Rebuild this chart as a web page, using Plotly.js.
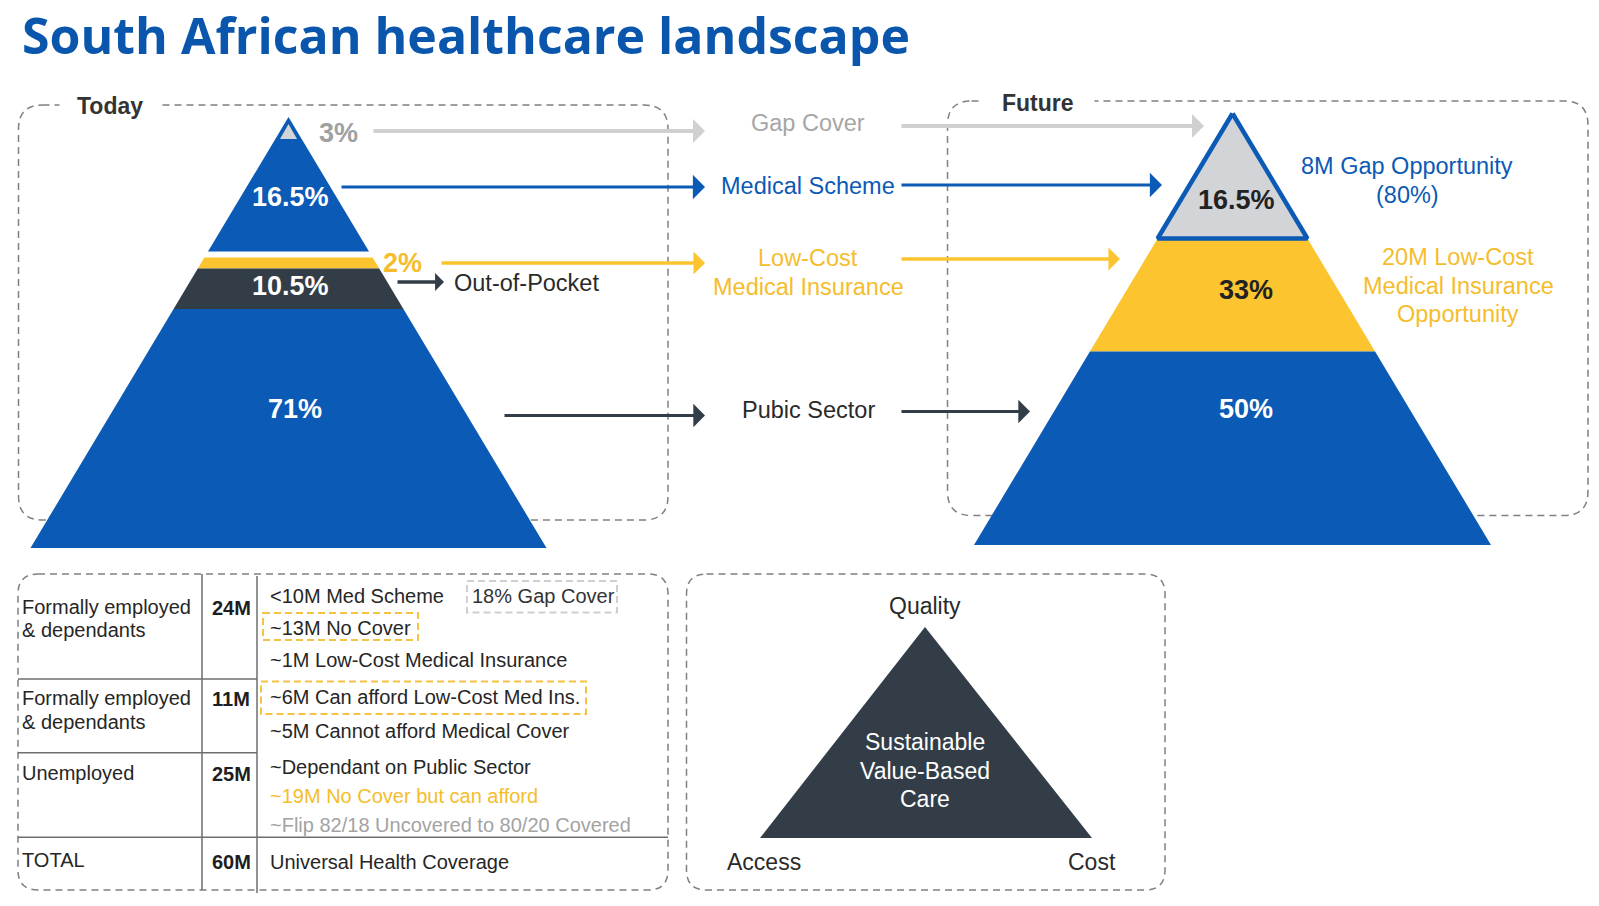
<!DOCTYPE html>
<html><head><meta charset="utf-8">
<script src="https://cdn.plot.ly/plotly-3.0.1.min.js"></script>
<style>html,body{margin:0;padding:0;background:#fff;}#chart{width:1599px;height:906px;}</style>
</head><body><div id="chart"></div>
<script>
// ---------------- data ----------------
const chartTitle = 'South African healthcare landscape';
const panelTitles = ['Today', 'Future'];
const todaySegments = ['Gap Cover', 'Medical Scheme', 'Low-Cost Medical Insurance', 'Out-of-Pocket', 'Public Sector'];
const todayShares = [3, 16.5, 2, 10.5, 71];
const futureSegments = ['Gap Cover', 'Low-Cost Medical Insurance', 'Public Sector'];
const futureShares = [16.5, 33, 50];
const flowLabels = ['Gap Cover', 'Medical Scheme', 'Low-Cost', 'Medical Insurance', 'Pubic Sector'];
const sideNote = 'Out-of-Pocket';
const futureNotes = ['8M Gap Opportunity', '(80%)', '20M Low-Cost', 'Medical Insurance', 'Opportunity'];
const groupLabels = ['Formally employed', '& dependants', 'Formally employed', '& dependants', 'Unemployed', 'TOTAL'];
const groupSizes = ['24M', '11M', '25M', '60M'];
const detailLines = ['<10M Med Scheme', '18% Gap Cover', '~13M No Cover', '~1M Low-Cost Medical Insurance',
  '~6M Can afford Low-Cost Med Ins.', '~5M Cannot afford Medical Cover', '~Dependant on Public Sector',
  '~19M No Cover but can afford', '~Flip 82/18 Uncovered to 80/20 Covered', 'Universal Health Coverage'];
const triangleCorners = ['Quality', 'Access', 'Cost'];
const triangleCentre = ['Sustainable', 'Value-Based', 'Care'];

// ---------------- styles / layout geometry ----------------
const C = {blue:'#0B5AB5', yellow:'#FCC42F', dark:'#323D48', grey:'#D2D4D7', text:'#333333',
  greyText:'#A6A6A6', yText:'#F5BD2C', dash:'#808080', title:'#0A56AD', arrowGrey:'#D0D0D0'};
const FONT = 'Liberation Sans, Arial, sans-serif';
const TP = {ax:288.5, ay:117, h:431, w:258};
const FP = {ax:1232.5, ay:113.5, h:431.5, w:258.5};
const todayBands = [[0,0.312,C.blue],[0.326,0.3515,C.yellow],[0.3515,0.4455,C.dark],[0.4455,1,C.blue]];
const futureBands = [[0.2897,0.5516,C.yellow],[0.5516,1,C.blue]];

function esc(s){return s.replace(/&/g,'&amp;').replace(/</g,'&lt;').replace(/>/g,'&gt;');}
function band(P,f0,f1){
  const y0=P.ay+P.h*f0, y1=P.ay+P.h*f1;
  return {x:[P.ax-P.w*f0,P.ax+P.w*f0,P.ax+P.w*f1,P.ax-P.w*f1,P.ax-P.w*f0], y:[y0,y0,y1,y1,y0]};
}
function poly(pts, fill, line, lw){
  return {type:'scatter', mode:'lines', x:pts.x, y:pts.y, fill:'toself', fillcolor:fill,
    line:{color:line||fill, width:lw||0}, hoverinfo:'skip', showlegend:false};
}
const traces = [];
todayBands.forEach(b=>traces.push(poly(band(TP,b[0],b[1]),b[2])));
// small grey gap-cover cap inside the top of today's pyramid
traces.push(poly({x:[TP.ax-8.5,TP.ax,TP.ax+8.5,TP.ax-8.5], y:[139,124,139,139]}, C.grey));
futureBands.forEach(b=>traces.push(poly(band(FP,b[0],b[1]),b[2])));
traces.push(poly(band(FP,0,0.2897), C.grey, C.blue, 4.5));
// value triangle
traces.push(poly({x:[760,925,1092,760], y:[838,627,838,838]}, C.dark));

function roundRect(x0,y0,x1,y1,r){
  return `M${x0+r},${y0} L${x1-r},${y0} Q${x1},${y0} ${x1},${y0+r} L${x1},${y1-r} Q${x1},${y1} ${x1-r},${y1} `+
    `L${x0+r},${y1} Q${x0},${y1} ${x0},${y1-r} L${x0},${y0+r} Q${x0},${y0} ${x0+r},${y0} Z`;
}
const shapes = [];
function dashBox(x0,y0,x1,y1,r){
  shapes.push({type:'path', xref:'x', yref:'y', layer:'below', path:roundRect(x0,y0,x1,y1,r),
    line:{color:C.dash, width:1.5, dash:'7px,5px'}});
}
dashBox(18.5,105,668,520,24);
dashBox(947.5,101,1588,515.5,24);
dashBox(18,574,668,890,20);
dashBox(686.5,574,1165,890,20);
function seg(x0,y0,x1,y1,color,w,dash){
  shapes.push({type:'line', xref:'x', yref:'y', x0, y0, x1, y1, layer:'above',
    line:{color, width:w, dash:dash||'solid'}});
}
seg(202,574,202,890,'#6E6E6E',1.5);
seg(257,576,257,893,'#6E6E6E',1.5);
seg(18,679,257,679,'#6E6E6E',1.5);
seg(18,752.7,257,752.7,'#6E6E6E',1.5);
seg(18,837.3,668,837.3,'#6E6E6E',1.5);
function rectBox(x0,y0,x1,y1,color){
  shapes.push({type:'rect', xref:'x', yref:'y', x0, y0, x1, y1, layer:'above',
    line:{color, width:2, dash:'7px,4px'}, fillcolor:'rgba(0,0,0,0)'});
}
rectBox(467,581,617,612.5,'#CFCFCF');
rectBox(263,613,418,640,'#F6C244');
rectBox(261,681.5,586,714,'#F6C244');

const ann = [];
function txt(x,y,text,size,color,opts){
  opts=opts||{};
  ann.push(Object.assign({xref:'x', yref:'y', x, y, text, showarrow:false,
    xanchor:opts.xanchor||'center', yanchor:'middle',
    font:{family:opts.family||FONT, size, color}}, opts.extra||{}));
}
function arrow(x0,x1,y,color,w,size){
  ann.push({xref:'x', yref:'y', axref:'x', ayref:'y', x:x1, y, ax:x0, ay:y, text:'', showarrow:true,
    arrowhead:1, arrowsize:size, arrowwidth:w, arrowcolor:color, standoff:0, startstandoff:0});
}
// title
txt(20, 34.5, '<b>'+chartTitle+'</b>', 50, C.title, {xanchor:'left', family:'Open Sans, Noto Sans, sans-serif'});
// panel titles
txt(110, 106, '<b>'+panelTitles[0]+'</b>', 23, C.text, {extra:{bgcolor:'#ffffff', borderpad:17}});
txt(1038, 102.5, '<b>'+panelTitles[1]+'</b>', 23, C.text, {extra:{bgcolor:'#ffffff', borderpad:20}});
// today pyramid labels
txt(338.5, 132.5, '<b>'+todayShares[0]+'%</b>', 27, '#A0A0A0');
txt(290.5, 197, '<b>'+todayShares[1]+'%</b>', 27, '#ffffff');
txt(402, 262.5, '<b>'+todayShares[2]+'%</b>', 27, C.yText);
txt(290.5, 286, '<b>'+todayShares[3]+'%</b>', 27, '#ffffff');
txt(295, 409, '<b>'+todayShares[4]+'%</b>', 27, '#ffffff');
// future pyramid labels
txt(1236, 200, '<b>'+futureShares[0]+'%</b>', 27, '#222222');
txt(1246, 290, '<b>'+futureShares[1]+'%</b>', 27, '#222222');
txt(1246, 409, '<b>'+futureShares[2]+'%</b>', 27, '#ffffff');
// arrows
arrow(372,705,131,C.arrowGrey,4,1.0);
arrow(900,1204,126,C.arrowGrey,4,1.0);
arrow(340,705,187,C.blue,3,1.35);
arrow(900,1162,185,C.blue,3,1.35);
arrow(440,705,263,C.yellow,3.5,1.1);
arrow(900,1120,259,C.yellow,3.5,1.1);
arrow(396,444,282,C.dark,3.5,0.85);
arrow(503,705,415.5,C.dark,3,1.3);
arrow(900,1030,411.5,C.dark,3,1.3);
// flow labels
txt(808, 123, flowLabels[0], 23.5, C.greyText);
txt(808, 186, flowLabels[1], 23.5, C.blue);
txt(808, 258, flowLabels[2], 23.5, C.yText);
txt(808, 286.5, flowLabels[3], 23.5, C.yText);
txt(808, 409.5, flowLabels[4], 23.5, '#2A2A2A');
txt(452, 282.5, sideNote, 23.5, '#2A2A2A', {xanchor:'left'});
// future notes
txt(1407, 165.5, futureNotes[0], 23.5, C.blue);
txt(1407, 194.5, futureNotes[1], 23.5, C.blue);
txt(1458, 257, futureNotes[2], 23.5, C.yText);
txt(1458, 285.5, futureNotes[3], 23.5, C.yText);
txt(1458, 314, futureNotes[4], 23.5, C.yText);
// table
const gY = [606.5, 630, 697.5, 721.5, 773, 860];
groupLabels.forEach((g,i)=>txt(19.5, gY[i], esc(g), 20, '#262626', {xanchor:'left'}));
const sY = [608, 698.5, 774, 861.5];
groupSizes.forEach((s,i)=>txt(231, sY[i], '<b>'+s+'</b>', 20, '#1E1E1E'));
const dX = [268, 470, 268, 268, 268, 268, 268, 268, 268, 268];
const dY = [595.5, 595.5, 627.5, 660, 696.5, 730.5, 766.5, 795.5, 824.5, 862];
const dC = ['#262626','#333333','#262626','#262626','#262626','#262626','#262626',C.yText,'#A3A3A3','#262626'];
detailLines.forEach((d,i)=>txt(dX[i], dY[i], esc(d), 20, dC[i], {xanchor:'left'}));
// value triangle labels
txt(925, 606, triangleCorners[0], 23, '#2A2A2A');
txt(764, 862, triangleCorners[1], 23, '#2A2A2A');
txt(1092, 862, triangleCorners[2], 23, '#2A2A2A');
txt(925, 741.5, triangleCentre[0], 23, '#ffffff');
txt(925, 770.5, triangleCentre[1], 23, '#ffffff');
txt(925, 799, triangleCentre[2], 23, '#ffffff');

const layout = {
  width:1599, height:906, margin:{l:0,r:0,t:0,b:0}, paper_bgcolor:'#ffffff', plot_bgcolor:'#ffffff',
  xaxis:{range:[0,1599], visible:false, fixedrange:true},
  yaxis:{range:[906,0], visible:false, fixedrange:true},
  showlegend:false, shapes, annotations:ann
};
Plotly.newPlot('chart', traces, layout, {staticPlot:true, displayModeBar:false});
</script></body></html>
